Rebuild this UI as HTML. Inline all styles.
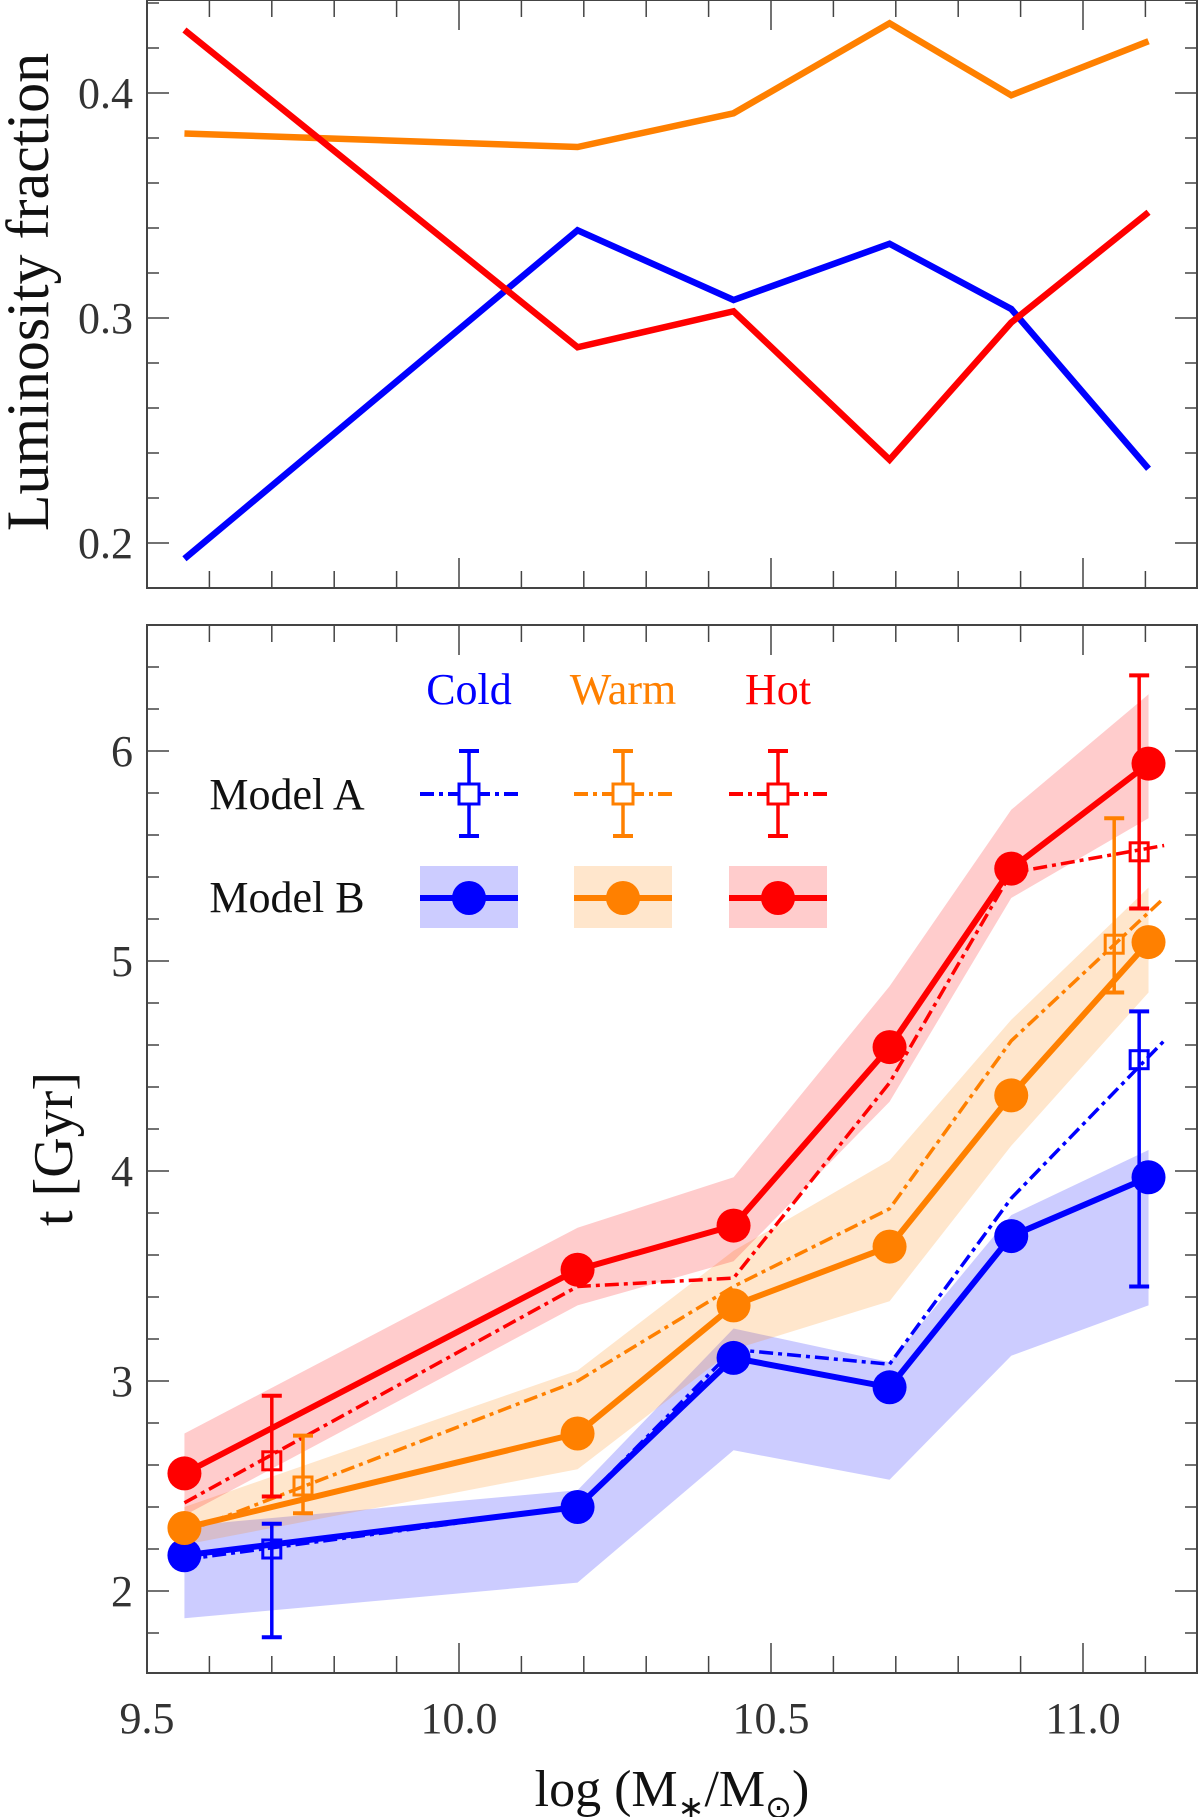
<!DOCTYPE html>
<html><head><meta charset="utf-8"><style>
html,body{margin:0;padding:0;background:#fff;}
svg{display:block;font-family:"Liberation Serif",serif;}
</style></head><body>
<svg id="chart" width="1200" height="1817" viewBox="0 0 1200 1817" xmlns="http://www.w3.org/2000/svg"></svg>
<script>
const xVals=[9.56,10.19,10.44,10.69,10.885,11.105];
const lumCold=[0.193,0.339,0.308,0.333,0.304,0.233];
const lumWarm=[0.382,0.376,0.391,0.431,0.399,0.423];
const lumHot=[0.428,0.287,0.303,0.237,0.298,0.347];
const bCold=[2.17,2.40,3.11,2.97,3.69,3.97];
const bColdHi=[2.31,2.48,3.25,3.09,3.79,4.10];
const bColdLo=[1.87,2.04,2.67,2.53,3.12,3.36];
const bWarm=[2.30,2.75,3.36,3.64,4.36,5.09];
const bWarmHi=[2.40,3.05,3.62,4.05,4.72,5.35];
const bWarmLo=[2.22,2.58,3.15,3.38,4.12,4.85];
const bHot=[2.56,3.53,3.74,4.59,5.44,5.94];
const bHotHi=[2.75,3.73,3.97,4.88,5.72,6.27];
const bHotLo=[2.36,3.36,3.57,4.33,5.30,5.68];
const aXVals=[9.56,10.19,10.44,10.69,10.885,11.13];
const aCold=[2.15,2.40,3.15,3.08,3.87,4.62];
const aWarm=[2.28,3.00,3.45,3.82,4.62,5.30];
const aHot=[2.42,3.45,3.49,4.42,5.42,5.55];
const errX=[[9.70,11.09],[9.75,11.05],[9.70,11.09]];
const errY=[[2.20,4.53],[2.50,5.08],[2.62,5.52]];
const errLo=[[1.78,3.45],[2.37,4.85],[2.45,5.25]];
const errHi=[[2.32,4.76],[2.74,5.68],[2.93,6.36]];
const xTicks=[9.5,10.0,10.5,11.0];
const xTickLabels=["9.5","10.0","10.5","11.0"];
const lumTicks=[0.2,0.3,0.4];
const lumTickLabels=["0.2","0.3","0.4"];
const ageTicks=[2,3,4,5,6];
const ageTickLabels=["2","3","4","5","6"];

const NS="http://www.w3.org/2000/svg";
const svg=document.getElementById('chart');
function mk(tag,attrs,parent){const e=document.createElementNS(NS,tag);for(const k in attrs)e.setAttribute(k,attrs[k]);(parent||svg).appendChild(e);return e;}
const L=147,R=1197;
const X=v=>L+(v-9.5)*624;
const T0=0,T1=588,B0=625,B1=1673;
const YL=v=>318-(v-0.3)*2250;
const YA=v=>1591-(v-2)*210;
const C={cold:'#0000ff',warm:'#ff8000',hot:'#ff0000'};
const F={cold:'rgba(0,0,255,0.2)',warm:'rgba(255,128,0,0.2)',hot:'rgba(255,0,0,0.2)'};

function frame(top,bot,name,yMinor,yMajor,Y,ymin,ymax){
  const g=mk('g',{});
  
  
  mk('rect',{x:L,y:top,width:R-L,height:bot-top,fill:'none',stroke:'#444','stroke-width':2},g);
  for(let v=9.6;v<11.2;v+=0.1){const x=X(v);const maj=Math.abs(v*2-Math.round(v*2))<1e-6;const len=maj?30:17;
    mk('line',{x1:x,y1:bot,x2:x,y2:bot-len,stroke:'#444','stroke-width':1.5},g);
    mk('line',{x1:x,y1:top,x2:x,y2:top+len,stroke:'#444','stroke-width':1.5},g);}
  for(let v=ymin;v<=ymax+1e-9;v+=yMinor){const y=Y(v);if(y<top+2||y>bot-2)continue;
    const maj=Math.abs(v/yMajor-Math.round(v/yMajor))<1e-6;const len=maj?22:12;
    mk('line',{x1:L,y1:y,x2:L+len,y2:y,stroke:'#444','stroke-width':1.5},g);
    mk('line',{x1:R,y1:y,x2:R-len,y2:y,stroke:'#444','stroke-width':1.5},g);}
}
frame(T0,T1,'top-panel',0.02,0.1,YL,0.18,0.44);
frame(B0,B1,'bottom-panel',0.2,1,YA,1.6,6.6);

function line(xs,ys,Y,color,w,dash,name){
  const p=mk('polyline',{points:xs.map((x,i)=>X(x)+','+Y(ys[i])).join(' '),fill:'none',stroke:color,'stroke-width':w,'stroke-linejoin':'miter'});
  if(dash)p.setAttribute('stroke-dasharray',dash);
  
  
}
line(xVals,lumCold,YL,C.cold,6.5,null,'lum-cold-line');
line(xVals,lumWarm,YL,C.warm,6.5,null,'lum-warm-line');
line(xVals,lumHot,YL,C.hot,6.5,null,'lum-hot-line');

function band(hi,lo,fill,name){
  const pts=xVals.map((x,i)=>X(x)+','+YA(hi[i])).concat(xVals.slice().reverse().map((x,j)=>X(x)+','+YA(lo[xVals.length-1-j])));
  const p=mk('polygon',{points:pts.join(' '),fill:fill});
  
  
}
band(bColdHi,bColdLo,F.cold,'band-cold');
band(bWarmHi,bWarmLo,F.warm,'band-warm');
band(bHotHi,bHotLo,F.hot,'band-hot');

const aSeries=[aCold,aWarm,aHot],bSeries=[bCold,bWarm,bHot],keys=['cold','warm','hot'];
keys.forEach((k,i)=>{
  line(aXVals,aSeries[i],YA,C[k],3.5,'14,5,4,5','model-a-'+k+'-line');
});
keys.forEach((k,i)=>{
  errX[i].forEach((ex,j)=>{
    const g=mk('g',{});
    
    
    const x=X(ex);
    mk('line',{x1:x,y1:YA(errLo[i][j]),x2:x,y2:YA(errHi[i][j]),stroke:C[k],'stroke-width':3.5},g);
    mk('line',{x1:x-10,y1:YA(errLo[i][j]),x2:x+10,y2:YA(errLo[i][j]),stroke:C[k],'stroke-width':4},g);
    mk('line',{x1:x-10,y1:YA(errHi[i][j]),x2:x+10,y2:YA(errHi[i][j]),stroke:C[k],'stroke-width':4},g);
    mk('rect',{x:x-9,y:YA(errY[i][j])-9,width:18,height:18,fill:'none',stroke:C[k],'stroke-width':3},g);
  });
});
keys.forEach((k,i)=>{
  line(xVals,bSeries[i],YA,C[k],6,null,'model-b-'+k+'-line');
  xVals.forEach((x,j)=>{
    const c=mk('circle',{cx:X(x),cy:YA(bSeries[i][j]),r:17,fill:C[k]});
    
    
  });
});

function text(x,y,s,size,fill,anchor,name,extra){
  const t=mk('text',Object.assign({x:x,y:y,'font-size':size,fill:fill,'text-anchor':anchor||'middle'},extra||{}));
  t.textContent=s;
  
  
  return t;
}
xTicks.forEach((v,i)=>text(X(v),1733,xTickLabels[i],44,'#333','middle','x-tick-label'));
lumTicks.forEach((v,i)=>text(133,YL(v)+15,lumTickLabels[i],44,'#333','end','lum-tick-label'));
ageTicks.forEach((v,i)=>text(133,YA(v)+15,ageTickLabels[i],44,'#333','end','age-tick-label'));
const xt=mk('text',{x:672,y:1806,'font-size':52,fill:'#111','text-anchor':'middle'});


xt.innerHTML='log (M<tspan font-size="32" dy="12">∗</tspan><tspan dy="-12">/M</tspan><tspan font-size="32" dy="12">⊙</tspan><tspan dy="-12">)</tspan>';
text(48,292,'Luminosity fraction',60,'#111','middle','lum-axis-title',{transform:'rotate(-90 48 292)'});
text(72,1149,'t [Gyr]',56,'#111','middle','age-axis-title',{transform:'rotate(-90 72 1149)'});

const lx=[469,623,778];
['Cold','Warm','Hot'].forEach((s,i)=>text(lx[i],704,s,44,C[keys[i]],'middle','legend-'+keys[i]+'-label'));
text(287,809,'Model A',44,'#111','middle','legend-model-a-label');
text(287,912,'Model B',44,'#111','middle','legend-model-b-label');
keys.forEach((k,i)=>{
  const x=lx[i];
  const ga=mk('g',{});
  
  
  mk('line',{x1:x-49,y1:794,x2:x+49,y2:794,stroke:C[k],'stroke-width':4,'stroke-dasharray':'14,5,4,5'},ga);
  mk('line',{x1:x,y1:751,x2:x,y2:836,stroke:C[k],'stroke-width':3.5},ga);
  mk('line',{x1:x-10,y1:751,x2:x+10,y2:751,stroke:C[k],'stroke-width':4},ga);
  mk('line',{x1:x-10,y1:836,x2:x+10,y2:836,stroke:C[k],'stroke-width':4},ga);
  mk('rect',{x:x-10,y:784,width:20,height:20,fill:'#fff',stroke:C[k],'stroke-width':3},ga);
  const gb=mk('g',{});
  
  
  mk('rect',{x:x-49,y:866,width:98,height:62,fill:F[k]},gb);
  mk('line',{x1:x-49,y1:898,x2:x+49,y2:898,stroke:C[k],'stroke-width':6},gb);
  mk('circle',{cx:x,cy:898,r:17,fill:C[k]},gb);
});
</script>
</body></html>
